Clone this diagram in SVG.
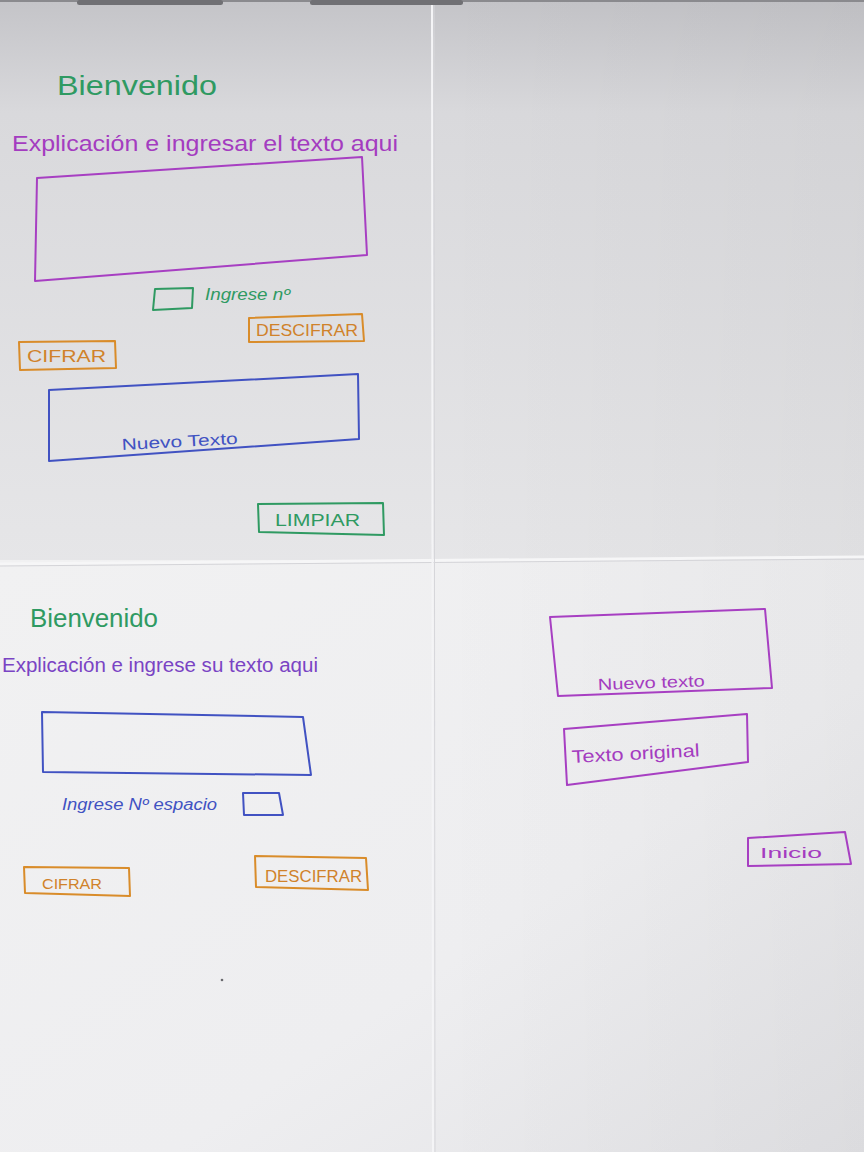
<svg xmlns="http://www.w3.org/2000/svg" width="864" height="1152" viewBox="0 0 864 1152">
  <defs>
    <linearGradient id="paperTop" x1="0" y1="0" x2="0" y2="1">
      <stop offset="0" stop-color="#c4c4c8"/>
      <stop offset="0.2" stop-color="#d9d9dc"/>
      <stop offset="1" stop-color="#e6e6e8"/>
    </linearGradient>
    <linearGradient id="paperBottom" x1="0" y1="0" x2="1" y2="1">
      <stop offset="0" stop-color="#f1f1f2"/>
      <stop offset="0.6" stop-color="#eeeef0"/>
      <stop offset="1" stop-color="#e2e2e5"/>
    </linearGradient>
    <linearGradient id="rightShade" x1="0" y1="0" x2="1" y2="0">
      <stop offset="0" stop-color="#000" stop-opacity="0"/>
      <stop offset="1" stop-color="#000" stop-opacity="0.03"/>
    </linearGradient>
    <style>
      .ink { fill: none; stroke-width: 2; stroke-linecap: round; stroke-linejoin: round; }
      .green { stroke: #2f9a62; }
      .purple { stroke: #a73fc2; }
      .blue { stroke: #4152c2; }
      .orange { stroke: #d98c2a; }
      .hand { font-family: "Liberation Sans", "DejaVu Sans", sans-serif; }
      .tGreen { fill: #2f9a62; }
      .tPurple { fill: #a43cc0; }
      .tViolet { fill: #7a44c4; }
      .tBlue { fill: #4152c2; }
      .tOrange { fill: #d0822a; }
    </style>
  </defs>

  <!-- paper sheet -->
  <rect x="0" y="0" width="864" height="565" fill="url(#paperTop)"/>
  <rect x="0" y="560" width="864" height="592" fill="url(#paperBottom)"/>
  <rect x="432" y="0" width="432" height="1152" fill="url(#rightShade)"/>
  <!-- fold creases -->
  <path d="M0 564 L864 557" stroke="#f6f6f7" stroke-width="3" fill="none"/>
  <path d="M0 566 L864 559" stroke="#d4d4d8" stroke-width="1" fill="none"/>
  <path d="M432 0 L433 1152" stroke="#f4f4f6" stroke-width="2" fill="none"/>
  <path d="M434 0 L435 1152" stroke="#d6d6da" stroke-width="1" fill="none"/>
  <!-- clips along the top edge -->
  <rect x="0" y="0" width="864" height="2" fill="#8a8a8e"/>
  <rect x="77" y="0" width="146" height="5" rx="2.5" fill="#707074"/>
  <rect x="310" y="0" width="153" height="5" rx="2.5" fill="#707074"/>

  <!-- ===== upper screen ===== -->
  <g id="title-top">
    <text class="hand tGreen" x="57" y="95" font-size="28" textLength="160" lengthAdjust="spacingAndGlyphs">Bienvenido</text>
  </g>
  <g id="intro-top">
    <text class="hand tPurple" x="12" y="151" font-size="22" textLength="386" lengthAdjust="spacingAndGlyphs">Explicación e ingresar el texto aqui</text>
  </g>
  <g id="input-top">
    <path class="ink purple" d="M37 178 L362 157 L367 255 L35 281 Z"/>
  </g>
  <g id="number-top">
    <path class="ink green" d="M155 289 L193 288 L192 308 L153 310 Z"/>
    <text class="hand tGreen" x="205" y="300" font-size="16" font-style="italic" textLength="85" lengthAdjust="spacingAndGlyphs">Ingrese nº</text>
  </g>
  <g id="decrypt-top">
    <path class="ink orange" d="M249 318 L362 314 L364 341 L249 342 Z"/>
    <text class="hand tOrange" x="256" y="336" font-size="16" textLength="102" lengthAdjust="spacingAndGlyphs">DESCIFRAR</text>
  </g>
  <g id="encrypt-top">
    <path class="ink orange" d="M19 342 L115 341 L116 368 L20 370 Z"/>
    <text class="hand tOrange" x="27" y="362" font-size="16" textLength="79" lengthAdjust="spacingAndGlyphs">CIFRAR</text>
  </g>
  <g id="output-top">
    <path class="ink blue" d="M49 390 L358 374 L359 439 L49 461 Z"/>
    <text class="hand tBlue" x="122" y="450" font-size="16" transform="rotate(-3 122 450)" textLength="116" lengthAdjust="spacingAndGlyphs">Nuevo Texto</text>
  </g>
  <g id="clear-top">
    <path class="ink green" d="M258 504 L383 503 L384 535 L259 532 Z"/>
    <text class="hand tGreen" x="275" y="526" font-size="16" textLength="85" lengthAdjust="spacingAndGlyphs">LIMPIAR</text>
  </g>

  <!-- ===== lower screen ===== -->
  <g id="title-bottom">
    <text class="hand tGreen" x="30" y="627" font-size="26" textLength="128" lengthAdjust="spacingAndGlyphs">Bienvenido</text>
  </g>
  <g id="intro-bottom">
    <text class="hand tViolet" x="2" y="672" font-size="20" textLength="316" lengthAdjust="spacingAndGlyphs">Explicación e ingrese su texto aqui</text>
  </g>
  <g id="input-bottom">
    <path class="ink blue" d="M42 712 L303 717 L311 775 L43 772 Z"/>
  </g>
  <g id="spaces-bottom">
    <text class="hand tBlue" x="62" y="810" font-size="16" font-style="italic" textLength="155" lengthAdjust="spacingAndGlyphs">Ingrese Nº espacio</text>
    <path class="ink blue" d="M243 793 L279 793 L283 815 L244 815 Z"/>
  </g>
  <g id="encrypt-bottom">
    <path class="ink orange" d="M24 867 L129 868 L130 896 L25 893 Z"/>
    <text class="hand tOrange" x="42" y="889" font-size="15" textLength="60" lengthAdjust="spacingAndGlyphs">CIFRAR</text>
  </g>
  <g id="decrypt-bottom">
    <path class="ink orange" d="M255 856 L366 858 L368 890 L256 887 Z"/>
    <text class="hand tOrange" x="265" y="882" font-size="16" textLength="97" lengthAdjust="spacingAndGlyphs">DESCIFRAR</text>
  </g>

  <g id="result-new">
    <path class="ink purple" d="M550 617 L765 609 L772 688 L558 696 Z"/>
    <text class="hand tPurple" x="598" y="690" font-size="16" transform="rotate(-2 598 690)" textLength="107" lengthAdjust="spacingAndGlyphs">Nuevo texto</text>
  </g>
  <g id="result-original">
    <path class="ink purple" d="M564 729 L747 714 L748 762 L567 785 Z"/>
    <text class="hand tPurple" x="572" y="763" font-size="18" transform="rotate(-3 572 763)" textLength="128" lengthAdjust="spacingAndGlyphs">Texto original</text>
  </g>
  <g id="home">
    <path class="ink purple" d="M748 838 L845 832 L851 864 L748 866 Z"/>
    <text class="hand tPurple" x="760" y="858" font-size="15" textLength="62" lengthAdjust="spacingAndGlyphs">Inicio</text>
  </g>

  <!-- stray pen mark -->
  <circle cx="222" cy="980" r="1.3" fill="#6a6a6e"/>
</svg>
